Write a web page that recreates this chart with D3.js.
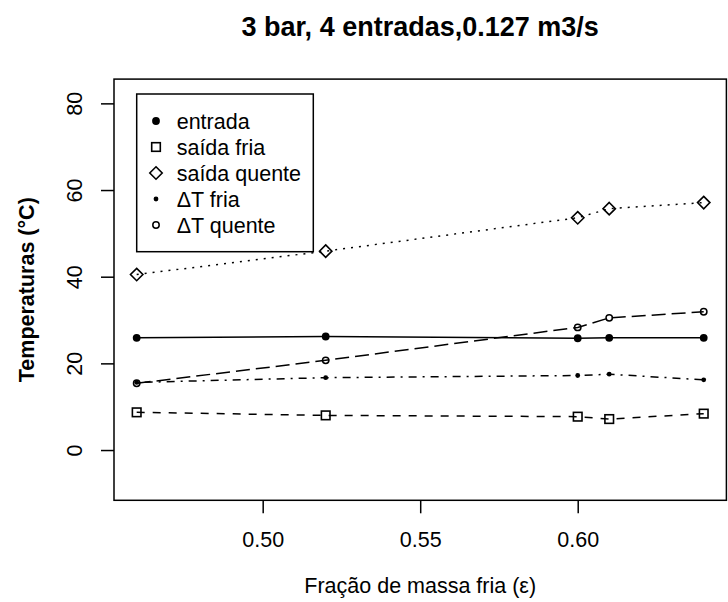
<!DOCTYPE html>
<html>
<head>
<meta charset="utf-8">
<script src="https://cdn.jsdelivr.net/npm/d3@7"></script>
<style>
  body { margin: 0; background: #fff; }
  text { font-family: "Liberation Sans", Arial, Helvetica, sans-serif; fill: #000; }
</style>
</head>
<body>
<svg id="chart"></svg>
<script>
// x values: fracao de massa fria
var fracao = [0.46, 0.52, 0.60, 0.61, 0.64];

// temperatures
var entrada     = [25.9, 26.2, 25.8, 25.9, 25.9];
var saidaFria   = [8.7, 8.0, 7.7, 7.15, 8.4];
var saidaQuente = [40.5, 45.9, 53.6, 55.7, 57.1];
var deltaFria   = [15.6, 16.7, 17.2, 17.5, 16.2];
var deltaQuente = [15.4, 20.7, 28.3, 30.5, 31.9];

var seriesNames = ["entrada", "saída fria", "saída quente", "ΔT fria", "ΔT quente"];
var xTicks = [0.50, 0.55, 0.60];
var yTicks = [0, 20, 40, 60, 80];

var settings = {
    width: 728,
    height: 602,
    left: 114, right: 726.4, top: 79.1, bottom: 500.3
};

// line type + symbol of every series, same order as seriesNames
var styles = [
    { values: entrada,     dash: null,       pch: "dot" },
    { values: saidaFria,   dash: "8 8",      pch: "square" },
    { values: saidaQuente, dash: "2 6",      pch: "diamond" },
    { values: deltaFria,   dash: "2 6 8 6",  pch: "smalldot" },
    { values: deltaQuente, dash: "14 6",     pch: "circle" }
];

var svg = d3.select("#chart")
    .attr("width", settings.width)
    .attr("height", settings.height);

svg.append("rect").attr("width", settings.width).attr("height", settings.height).attr("fill", "#fff");

// R style 4% extension of the axis ranges
var x = d3.scaleLinear().domain([0.4528, 0.6472]).range([settings.left, settings.right]);
var y = d3.scaleLinear().domain([-11.6, 85.6]).range([settings.bottom, settings.top]);

function symbol(g, type, cx, cy) {
    if (type === "dot") {
        g.append("circle").attr("cx", cx).attr("cy", cy).attr("r", 3.9).attr("fill", "#000");
    } else if (type === "smalldot") {
        g.append("circle").attr("cx", cx).attr("cy", cy).attr("r", 2.4).attr("fill", "#000");
    } else if (type === "circle") {
        g.append("circle").attr("cx", cx).attr("cy", cy).attr("r", 3.2)
            .attr("fill", "none").attr("stroke", "#000").attr("stroke-width", 1.5);
    } else if (type === "square") {
        g.append("rect").attr("x", cx - 4.3).attr("y", cy - 4.3).attr("width", 8.6).attr("height", 8.6)
            .attr("fill", "none").attr("stroke", "#000").attr("stroke-width", 1.6);
    } else if (type === "diamond") {
        var s = 6.2;
        g.append("path")
            .attr("d", "M" + cx + "," + (cy - s) + "L" + (cx + s) + "," + cy + "L" + cx + "," + (cy + s) + "L" + (cx - s) + "," + cy + "Z")
            .attr("fill", "none").attr("stroke", "#000").attr("stroke-width", 1.6);
    }
}

// lines
var line = d3.line()
    .x(function (d) { return x(d[0]); })
    .y(function (d) { return y(d[1]); });

var plot = svg.append("g").attr("class", "series");

styles.forEach(function (s) {
    var pts = fracao.map(function (f, i) { return [f, s.values[i]]; });
    plot.append("path")
        .datum(pts)
        .attr("d", line)
        .attr("fill", "none")
        .attr("stroke", "#000")
        .attr("stroke-width", 1.5)
        .attr("stroke-dasharray", s.dash);
    pts.forEach(function (p) {
        symbol(plot, s.pch, x(p[0]), y(p[1]));
    });
});

// box
svg.append("rect")
    .attr("x", settings.left).attr("y", settings.top)
    .attr("width", settings.right - settings.left)
    .attr("height", settings.bottom - settings.top)
    .attr("fill", "none").attr("stroke", "#000").attr("stroke-width", 1.5);

// axes
var xAxis = svg.append("g")
    .attr("transform", "translate(0," + settings.bottom + ")")
    .call(d3.axisBottom(x).tickValues(xTicks).tickSize(13).tickFormat(d3.format(".2f")));
xAxis.select(".domain").remove();
xAxis.selectAll(".tick line").attr("stroke-width", 1.5);
xAxis.selectAll(".tick text")
    .attr("y", 47).attr("dy", null)
    .style("font-size", "21.5px")
    .style("font-family", "'Liberation Sans', Arial, sans-serif");

var yAxis = svg.append("g")
    .attr("transform", "translate(" + settings.left + ",0)")
    .call(d3.axisLeft(y).tickValues(yTicks).tickSize(13));
yAxis.select(".domain").remove();
yAxis.selectAll(".tick line").attr("stroke-width", 1.5);
yAxis.selectAll(".tick text")
    .attr("x", null).attr("dy", null)
    .attr("text-anchor", "middle")
    .attr("transform", "translate(-32.3,0) rotate(-90)")
    .style("font-size", "21.5px")
    .style("font-family", "'Liberation Sans', Arial, sans-serif");

// titles
svg.append("text")
    .attr("x", (settings.left + settings.right) / 2).attr("y", 36)
    .attr("text-anchor", "middle")
    .style("font-size", "27px").style("font-weight", "bold")
    .text("3 bar, 4 entradas,0.127 m3/s");

svg.append("text")
    .attr("x", (settings.left + settings.right) / 2).attr("y", 593)
    .attr("text-anchor", "middle")
    .style("font-size", "21.5px")
    .text("Fração de massa fria (ε)");

svg.append("text")
    .attr("transform", "translate(33.5," + (settings.top + settings.bottom) / 2 + ") rotate(-90)")
    .attr("text-anchor", "middle")
    .style("font-size", "21.5px").style("font-weight", "bold")
    .text("Temperaturas (°C)");

// legend
var legend = svg.append("g").attr("class", "legend");
legend.append("rect")
    .attr("x", 136.7).attr("y", 94)
    .attr("width", 176.6).attr("height", 157.7)
    .attr("fill", "#fff").attr("stroke", "#000").attr("stroke-width", 1.5);

seriesNames.forEach(function (name, i) {
    var cy = 121 + i * 26;
    symbol(legend, styles[i].pch, 156, cy);
    legend.append("text")
        .attr("x", 176.7).attr("y", cy).attr("dy", "0.36em")
        .style("font-size", "21.5px")
        .text(name);
});
</script>
</body>
</html>
